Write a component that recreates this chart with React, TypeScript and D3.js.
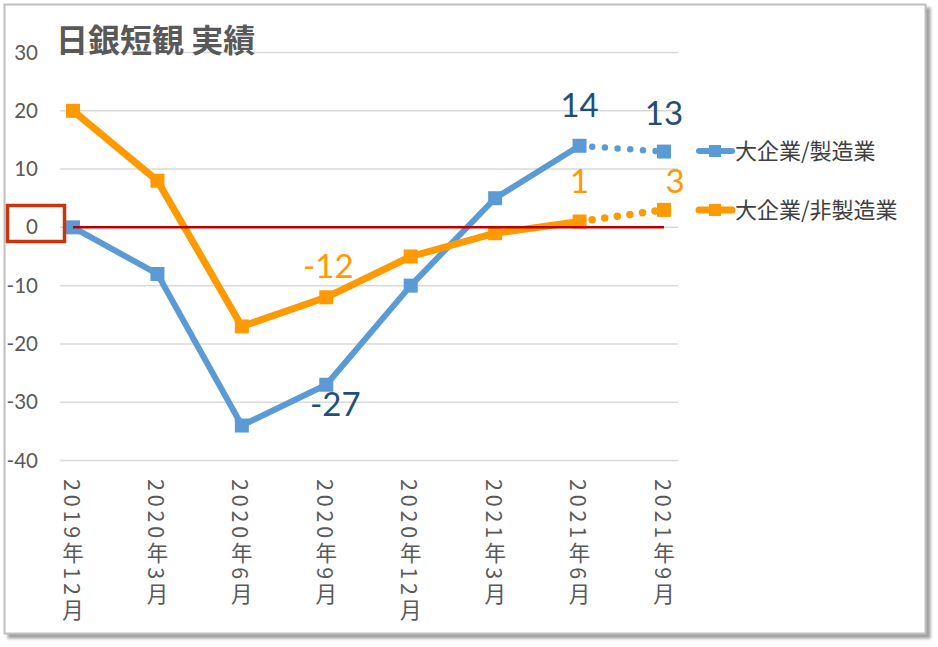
import React from 'react';
import * as d3 from 'd3';

const categories = ['2019年12月', '2020年3月', '2020年6月', '2020年9月', '2020年12月', '2021年3月', '2021年6月', '2021年9月'];
const manufacturing = [0, -8, -34, -27, -10, 5, 14, 13];
const nonManufacturing = [20, 8, -17, -12, -5, -1, 1, 3];
const yTicks = [30, 20, 10, 0, -10, -20, -30, -40];
const seriesNames = ['大企業/製造業', '大企業/非製造業'];
const titleText = '日銀短観 実績';
// indices of points that carry a data label
const blueLabelIdx = [3, 6, 7];
const orangeLabelIdx = [3, 6, 7];

const W = 938;
const H = 647;
const BLUE = '#5B9BD5';
const ORANGE = '#FF9900';
const DARKBLUE = '#1F4E79';
const GRAY = '#595959';

export default function App() {
  const x = d3.scalePoint<string>().domain(categories).range([73, 664]);
  const y = d3.scaleLinear().domain([-40, 30]).range([460.5, 52.5]);

  const seg = (vals: number[], from: number, to: number) =>
    d3.line<[string, number]>().x(d => x(d[0])!).y(d => y(d[1]))(
      vals.slice(from, to + 1).map((v, i) => [categories[i + from], v] as [string, number])
    )!;

  const series = [
    { vals: manufacturing, color: BLUE, width: 6, labelColor: DARKBLUE, labels: blueLabelIdx },
    { vals: nonManufacturing, color: ORANGE, width: 7, labelColor: ORANGE, labels: orangeLabelIdx },
  ];

  const labelOffset = (s: number, i: number) => {
    if (s === 0 && i === 3) return { dx: 9, dy: 31 };
    if (s === 0) return { dx: 0, dy: -29 + (i === 7 ? 2 : 0) };
    if (s === 1 && i === 3) return { dx: 2, dy: -19 };
    if (s === 1 && i === 7) return { dx: 11, dy: -17 };
    return { dx: 0, dy: -29 };
  };

  return (
    <svg width={W} height={H} style={{ position: 'absolute', left: 0, top: 0 }}>
      <defs>
        <filter id="sh" x="-5%" y="-5%" width="110%" height="110%">
          <feDropShadow dx="4" dy="4" stdDeviation="1.8" floodColor="#7f7f7f" floodOpacity="0.75" />
        </filter>
      </defs>
      <rect x={0} y={0} width={W} height={H} fill="#ffffff" />
      <rect x={4.5} y={4.5} width={921} height={629} fill="#ffffff" stroke="#bfbfbf" strokeWidth={2} filter="url(#sh)" />

      {/* gridlines */}
      {yTicks.map(t => (
        <line key={t} x1={60} x2={678} y1={y(t)} y2={y(t)} stroke="#d9d9d9" strokeWidth={1.5} />
      ))}

      {/* y tick labels */}
      {yTicks.map(t => (
        <text key={t} x={38} y={y(t) + 7} textAnchor="end" fontFamily="Lato, 'Open Sans', sans-serif" fontSize={20.5} fill={GRAY}>
          {t}
        </text>
      ))}

      {/* title */}
      <text x={56} y={52} fontFamily="'Noto Sans CJK JP', sans-serif" fontWeight="bold" fontSize={32} fill={GRAY}>
        {titleText}
      </text>

      {/* x labels (vertical) */}
      {categories.map(c => (
        <text key={c} x={x(c)!} y={479} style={{ writingMode: 'vertical-rl' }} fontFamily="'Noto Sans CJK JP', sans-serif" fontSize={21.5} letterSpacing={3.8} fill={GRAY}>
          {c}
        </text>
      ))}

      {/* series */}
      {series.map((s, si) => (
        <g key={si}>
          <path d={seg(s.vals, 0, 6)} fill="none" stroke={s.color} strokeWidth={s.width} strokeLinejoin="round" />
          <path d={seg(s.vals, 6, 7)} fill="none" stroke={s.color} strokeWidth={s.width + 0.5} strokeLinecap="round" strokeDasharray="0 12.7" />
          {s.vals.map((v, i) => (
            <rect key={i} x={x(categories[i])! - 7} y={y(v) - 7} width={14} height={14} fill={s.color} />
          ))}
        </g>
      ))}

      {/* zero line */}
      <line x1={x(categories[0])} x2={x(categories[7])} y1={y(0)} y2={y(0)} stroke="#C00000" strokeWidth={2.5} />

      {/* data labels */}
      {series.map((s, si) =>
        s.labels.map(i => {
          const o = labelOffset(si, i);
          return (
            <text key={si + '-' + i} x={x(categories[i])! + o.dx} y={y(s.vals[i]) + o.dy} textAnchor="middle" fontFamily="Lato, 'Open Sans', sans-serif" fontSize={33} fill={s.labelColor}>
              {s.vals[i]}
            </text>
          );
        })
      )}

      {/* highlight box around 0 */}
      <rect x={7.5} y={205.5} width={57} height={36} fill="none" stroke="#C9360A" strokeWidth={3.5} />

      {/* legend */}
      {series.map((s, si) => {
        const ly = si === 0 ? 151 : 210;
        return (
          <g key={si}>
            <line x1={699} x2={732} y1={ly} y2={ly} stroke={s.color} strokeWidth={s.width} strokeLinecap="round" />
            <rect x={709} y={ly - 6} width={12} height={12} fill={s.color} />
            <text x={735} y={ly + 8} fontFamily="'Noto Sans CJK JP', sans-serif" fontSize={22} fill="#404040">
              {seriesNames[si]}
            </text>
          </g>
        );
      })}
    </svg>
  );
}
